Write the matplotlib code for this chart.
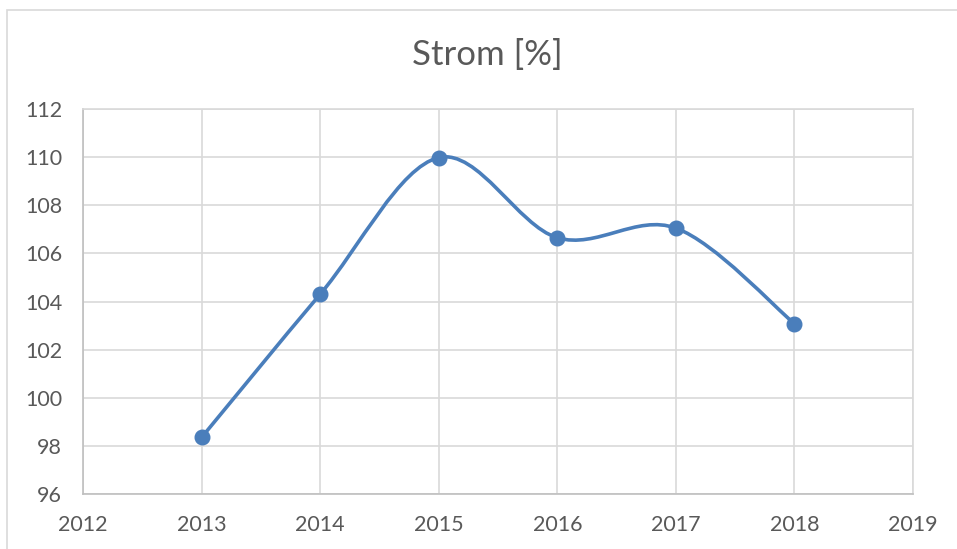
import matplotlib
matplotlib.use("Agg")
import matplotlib.pyplot as plt
from matplotlib.path import Path
from matplotlib.patches import PathPatch, Rectangle
import numpy as np

plt.rcParams['font.family'] = ['Lato', 'DejaVu Sans']

years = [2013, 2014, 2015, 2016, 2017, 2018]
strom = [98.35, 104.3, 109.98, 106.65, 107.05, 103.08]
yticks = [96, 98, 100, 102, 104, 106, 108, 110, 112]
xticks = [2012, 2013, 2014, 2015, 2016, 2017, 2018, 2019]

blue = '#4a7ebb'
grey_txt = '#595959'
grid_c = '#d9d9d9'


def smooth_path(xs, ys):
    # excel-like smoothed line: catmull-rom turned into cubic beziers
    pts = np.column_stack([xs, ys]).astype(float)
    n = len(pts)
    verts = [pts[0]]
    codes = [Path.MOVETO]
    for i in range(n - 1):
        p0 = pts[i - 1] if i > 0 else pts[i]
        p1 = pts[i]
        p2 = pts[i + 1]
        p3 = pts[i + 2] if i + 2 < n else pts[i + 1]
        c1 = p1 + (p2 - p0) / 6
        c2 = p2 - (p3 - p1) / 6
        verts += [c1, c2, p2]
        codes += [Path.CURVE4] * 3
    return Path(verts, codes)


fig = plt.figure(figsize=(9.57, 5.49), dpi=100)
# chart border (only left and top visible in the crop)
fig.patches.append(Rectangle((7 / 957, -0.1), 1.2, (549 - 10) / 549 + 0.1,
                             transform=fig.transFigure, fill=False,
                             edgecolor=grid_c, lw=1.2))

ax = fig.add_axes([83 / 957, 55 / 549, 830 / 957, 385 / 549])
ax.set_xlim(2012, 2019)
ax.set_ylim(96, 112)
ax.set_xticks(xticks)
ax.set_yticks(yticks)
ax.grid(True, color=grid_c, lw=1.2)
ax.set_axisbelow(True)
for s in ax.spines.values():
    s.set_color(grid_c)
    s.set_linewidth(1.2)
ax.spines['left'].set_color('#bfbfbf')
ax.spines['bottom'].set_color('#bfbfbf')
ax.tick_params(length=0, labelsize=15.5, labelcolor=grey_txt)
ax.tick_params(axis='x', pad=15)
ax.tick_params(axis='y', pad=15)

ax.add_patch(PathPatch(smooth_path(years, strom), fill=False,
                       edgecolor=blue, lw=2.6, zorder=3))
ax.plot(years, strom, 'o', color=blue, ms=10.5, zorder=4)

fig.text(487 / 957, 1 - 55 / 549, 'Strom [%]', ha='center', va='center',
         fontsize=25, color=grey_txt)

plt.savefig('out.png', dpi=100)
